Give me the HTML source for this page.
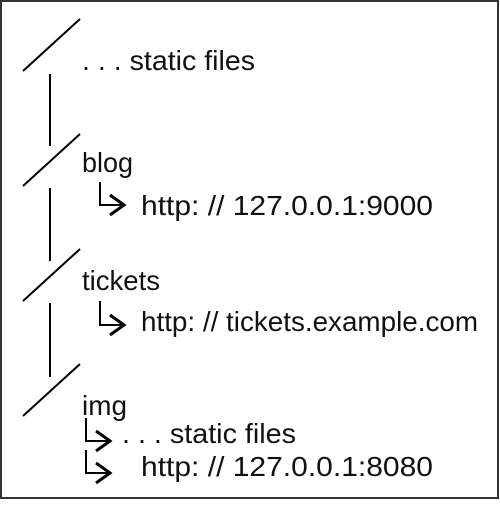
<!DOCTYPE html>
<html><head><style>html,body{margin:0;padding:0;background:#fff}</style></head>
<body>
<svg width="500" height="500" viewBox="0 0 500 500" xmlns="http://www.w3.org/2000/svg">
<rect x="1" y="1" width="497" height="497" fill="#fff" stroke="#333" stroke-width="2"/>
<g stroke="#000" stroke-width="2" fill="none">
<line x1="23" y1="71" x2="80" y2="19"/>
<line x1="23" y1="186" x2="80" y2="134"/>
<line x1="23" y1="301" x2="80" y2="249"/>
<line x1="23" y1="416" x2="80" y2="364"/>
<line x1="50" y1="74" x2="50" y2="146"/>
<line x1="50" y1="188" x2="50" y2="261"/>
<line x1="50" y1="303" x2="50" y2="377"/>
<polyline points="100,182 100,205 122,205"/>
<polyline points="110,195 124,205 110,215" stroke-width="3"/>
<polyline points="100,301 100,325 122,325"/>
<polyline points="110,315 124,325 110,335" stroke-width="3"/>
<polyline points="86,418 86,441 108,441"/>
<polyline points="96,431 110,441 96,451" stroke-width="3"/>
<polyline points="86,450 86,473 108,473"/>
<polyline points="96,463 110,473 96,483" stroke-width="3"/>
</g>
<g font-family="Liberation Sans, sans-serif" font-size="28" fill="#111">
<text x="82" y="70" textLength="173" lengthAdjust="spacingAndGlyphs">. . . static files</text>
<text x="82" y="172" textLength="51" lengthAdjust="spacingAndGlyphs">blog</text>
<text x="141" y="215" textLength="292" lengthAdjust="spacingAndGlyphs">http: // 127.0.0.1:9000</text>
<text x="82" y="290" textLength="78" lengthAdjust="spacingAndGlyphs">tickets</text>
<text x="141" y="331" textLength="337" lengthAdjust="spacingAndGlyphs">http: // tickets.example.com</text>
<text x="82" y="415" textLength="45" lengthAdjust="spacingAndGlyphs">img</text>
<text x="122" y="443" textLength="174" lengthAdjust="spacingAndGlyphs">. . . static files</text>
<text x="141" y="476" textLength="292" lengthAdjust="spacingAndGlyphs">http: // 127.0.0.1:8080</text>
</g>
</svg>
</body></html>
